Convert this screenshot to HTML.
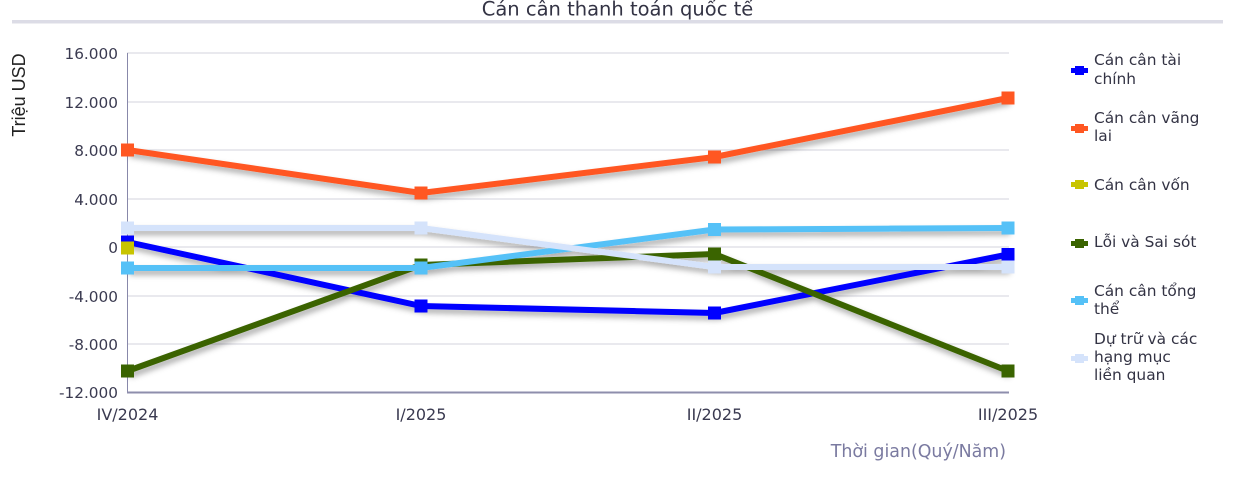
<!DOCTYPE html>
<html><head><meta charset="utf-8"><style>
html,body{margin:0;padding:0;background:#fff;}
svg{display:block;}
</style></head><body>
<svg width="1233" height="487" viewBox="0 0 1233 487" xmlns="http://www.w3.org/2000/svg">
<defs>
<filter id="sh" x="-5%" y="-20%" width="110%" height="160%">
<feDropShadow dx="2" dy="4" stdDeviation="2.8" flood-color="#000" flood-opacity="0.32"/>
</filter>
</defs>
<text x="617.5" y="15.5" text-anchor="middle" font-family="DejaVu Sans, sans-serif" font-size="19.5" fill="#333344">Cán cân thanh toán quốc tế</text>
<rect x="12" y="20" width="1211" height="3.5" fill="#dcdce6"/>
<g stroke="#dcdce4" stroke-width="1.3">
<line x1="127" y1="53" x2="1009" y2="53"/>
<line x1="127" y1="102" x2="1009" y2="102"/>
<line x1="127" y1="150" x2="1009" y2="150"/>
<line x1="127" y1="199" x2="1009" y2="199"/>
<line x1="127" y1="247" x2="1009" y2="247"/>
<line x1="127" y1="296" x2="1009" y2="296"/>
<line x1="127" y1="344" x2="1009" y2="344"/>
</g>
<line x1="127.5" y1="53" x2="127.5" y2="393" stroke="#8888aa" stroke-width="1"/>
<line x1="127" y1="392.5" x2="1009" y2="392.5" stroke="#8e8eac" stroke-width="2"/>
<g font-family="DejaVu Sans, sans-serif" font-size="15.3" fill="#3a3a50" text-anchor="end">
<text x="118" y="59">16.000</text>
<text x="118" y="108">12.000</text>
<text x="118" y="156">8.000</text>
<text x="118" y="205">4.000</text>
<text x="118" y="253">0</text>
<text x="118" y="302">-4.000</text>
<text x="118" y="350">-8.000</text>
<text x="118" y="398">-12.000</text>
</g>
<g font-family="DejaVu Sans, sans-serif" font-size="16" fill="#3a3a50" text-anchor="middle">
<text x="127.5" y="420">IV/2024</text>
<text x="421" y="420">I/2025</text>
<text x="714.5" y="420">II/2025</text>
<text x="1008" y="420">III/2025</text>
</g>
<text transform="translate(25,95) rotate(-90)" text-anchor="middle" font-family="Liberation Sans, sans-serif" font-size="18" fill="#222">Triệu USD</text>
<text x="1006" y="457" text-anchor="end" font-family="DejaVu Sans, sans-serif" font-size="17.4" fill="#7a7aa0">Thời gian(Quý/Năm)</text>

<g fill="none" stroke-width="6" stroke-linejoin="round" filter="url(#sh)">
<polyline stroke="#0000ff" points="127.5,242 421,306 714.5,313 1008,254.5"/>
<polyline stroke="#ff5722" points="127.5,150 421,193 714.5,157 1008,98"/>
<polyline stroke="#3a6400" points="127.5,371 421,265 714.5,254 1008,371"/>
<polyline stroke="#55c1f7" points="127.5,268 421,268 714.5,229.5 1008,228"/>
<polyline stroke="#d5e3fb" points="127.5,228 421,228 714.5,267 1008,267"/>
</g>
<g>
<g fill="#0000ff"><rect x="121" y="235.5" width="13" height="13"/><rect x="414.5" y="299.5" width="13" height="13"/><rect x="708" y="306.5" width="13" height="13"/><rect x="1001.5" y="248" width="13" height="13"/></g>
<g fill="#ff5722"><rect x="121" y="143.5" width="13" height="13"/><rect x="414.5" y="186.5" width="13" height="13"/><rect x="708" y="150.5" width="13" height="13"/><rect x="1001.5" y="91.5" width="13" height="13"/></g>
<g fill="#c8c400"><rect x="121" y="241.5" width="13" height="13"/></g>
<g fill="#3a6400"><rect x="121" y="364.5" width="13" height="13"/><rect x="414.5" y="258.5" width="13" height="13"/><rect x="708" y="247.5" width="13" height="13"/><rect x="1001.5" y="364.5" width="13" height="13"/></g>
<g fill="#55c1f7"><rect x="121" y="261.5" width="13" height="13"/><rect x="414.5" y="261.5" width="13" height="13"/><rect x="708" y="223" width="13" height="13"/><rect x="1001.5" y="221.5" width="13" height="13"/></g>
<g fill="#d5e3fb"><rect x="121" y="221.5" width="13" height="13"/><rect x="414.5" y="221.5" width="13" height="13"/><rect x="708" y="260.5" width="13" height="13"/><rect x="1001.5" y="260.5" width="13" height="13"/></g>
</g>

<g font-family="DejaVu Sans, sans-serif" font-size="15.4" fill="#333344">
<g fill="#0000ff"><rect x="1071" y="68" width="17" height="5"/><rect x="1075" y="66" width="9" height="9"/></g>
<text x="1094" y="65">Cán cân tài</text><text x="1094" y="84">chính</text>
<g fill="#ff5722"><rect x="1071" y="126" width="17" height="5"/><rect x="1075" y="124" width="9" height="9"/></g>
<text x="1094" y="123">Cán cân vãng</text><text x="1094" y="141">lai</text>
<g fill="#c8c400"><rect x="1071" y="182" width="17" height="5"/><rect x="1075" y="180" width="9" height="9"/></g>
<text x="1094" y="190">Cán cân vốn</text>
<g fill="#3a6400"><rect x="1071" y="241" width="17" height="5"/><rect x="1075" y="239" width="9" height="9"/></g>
<text x="1094" y="247">Lỗi và Sai sót</text>
<g fill="#55c1f7"><rect x="1071" y="298" width="17" height="5"/><rect x="1075" y="296" width="9" height="9"/></g>
<text x="1094" y="296">Cán cân tổng</text><text x="1094" y="314">thể</text>
<g fill="#d5e3fb"><rect x="1071" y="356" width="17" height="5"/><rect x="1075" y="354" width="9" height="9"/></g>
<text x="1094" y="344">Dự trữ và các</text><text x="1094" y="362">hạng mục</text><text x="1094" y="380">liền quan</text>
</g>
</svg>
</body></html>
